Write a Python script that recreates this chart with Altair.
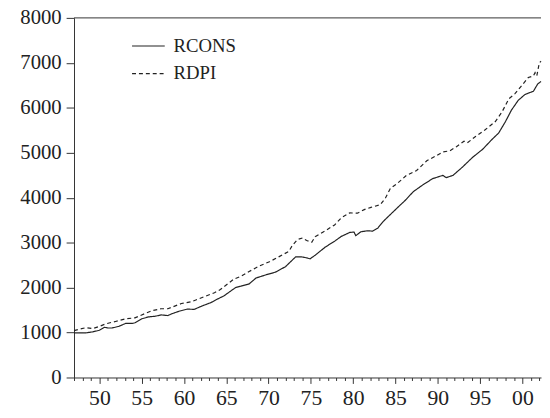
import altair as alt
import pandas as pd

series_names = ["RCONS", "RDPI"]

rcons_year = [1947.0, 1948.4, 1949.2, 1950.0, 1950.6, 1951.0, 1951.5, 1952.3, 1953.1, 1953.9,
              1954.2, 1955.0, 1955.8, 1956.6, 1957.3, 1958.1, 1958.5, 1959.5, 1960.4, 1961.2,
              1962.0, 1963.2, 1963.9, 1964.7, 1965.5, 1966.1, 1966.7, 1967.7, 1968.5, 1969.7,
              1970.8, 1972.0, 1972.6, 1973.2, 1973.9, 1974.5, 1974.9, 1975.5, 1976.7, 1977.8,
              1978.6, 1979.6, 1980.1, 1980.3, 1980.9, 1981.7, 1982.3, 1982.9, 1983.6, 1984.4,
              1985.4, 1986.1, 1987.1, 1988.3, 1989.4, 1990.6, 1991.0, 1991.8, 1992.9, 1994.1,
              1995.3, 1996.4, 1997.2, 1998.0, 1998.7, 1999.5, 2000.3, 2001.3, 2001.8, 2002.2]
rcons_value = [993, 993, 1015, 1051, 1116, 1102, 1102, 1138, 1203, 1203,
               1218, 1305, 1348, 1363, 1392, 1378, 1414, 1479, 1522, 1515,
               1581, 1668, 1740, 1813, 1921, 2001, 2030, 2082, 2212, 2285,
               2343, 2466, 2575, 2684, 2684, 2662, 2640, 2720, 2901, 3032,
               3140, 3228, 3235, 3155, 3242, 3264, 3257, 3322, 3481, 3627,
               3808, 3931, 4134, 4294, 4424, 4497, 4446, 4497, 4678, 4896,
               5077, 5295, 5440, 5694, 5947, 6165, 6296, 6368, 6528, 6586]

rdpi_year = [1947.0, 1948.4, 1949.2, 1950.0, 1950.8, 1951.9, 1953.1, 1954.2, 1955.0, 1956.2,
             1957.3, 1958.1, 1958.5, 1959.7, 1960.8, 1961.4, 1962.4, 1963.6, 1964.3, 1965.3,
             1965.9, 1966.7, 1967.7, 1968.9, 1970.1, 1971.2, 1972.4, 1972.8, 1973.4, 1974.0,
             1974.5, 1975.1, 1975.5, 1976.7, 1977.8, 1978.6, 1979.6, 1980.5, 1981.3, 1982.1,
             1983.2, 1983.8, 1984.4, 1985.2, 1986.3, 1987.5, 1988.7, 1989.8, 1990.6, 1991.4,
             1992.2, 1993.1, 1993.5, 1994.5, 1995.6, 1996.8, 1997.6, 1998.4, 1999.1, 1999.9,
             2000.7, 2001.3, 2001.5, 2001.7, 2002.0, 2002.2]
rdpi_value = [1044, 1109, 1088, 1138, 1196, 1247, 1305, 1327, 1392, 1486,
              1530, 1530, 1559, 1646, 1682, 1725, 1798, 1885, 1958, 2103,
              2190, 2248, 2357, 2481, 2575, 2684, 2807, 2937, 3068, 3104,
              3046, 3010, 3133, 3264, 3394, 3554, 3663, 3655, 3735, 3786,
              3844, 3989, 4207, 4315, 4497, 4606, 4823, 4932, 5019, 5041,
              5135, 5258, 5222, 5367, 5512, 5694, 5911, 6201, 6310, 6491,
              6673, 6709, 6782, 6709, 7000, 7035]

x_ticks = list(range(1947, 2003))
y_ticks = [0, 1000, 2000, 3000, 4000, 5000, 6000, 7000, 8000]

df = pd.concat([
    pd.DataFrame({"year": rcons_year, "value": rcons_value, "series": series_names[0]}),
    pd.DataFrame({"year": rdpi_year, "value": rdpi_value, "series": series_names[1]}),
])

FONT = "Liberation Serif"
INK = "#222222"

x_scale = alt.Scale(domain=[1947, 2002.2], nice=False, zero=False)
y_scale = alt.Scale(domain=[0, 8000], nice=False)

lines = alt.Chart(df).mark_line(color=INK, strokeWidth=1.2).encode(
    x=alt.X("year:Q", scale=x_scale, title=None,
            axis=alt.Axis(values=x_ticks, grid=False,
                          labelExpr="datum.value % 5 === 0 ? slice('' + datum.value, 2) : ''",
                          tickSize={"condition": {"test": "datum.value % 5 === 0", "value": 6}, "value": 3},
                          labelFlush=False, labelPadding=4, labelOverlap=False, labelFontSize=22)),
    y=alt.Y("value:Q", scale=y_scale, title=None,
            axis=alt.Axis(values=y_ticks, grid=False, tickSize=8, labelPadding=5, format="d",
                          labelFontSize=21)),
    strokeDash=alt.StrokeDash("series:N",
                              scale=alt.Scale(domain=series_names, range=[[1, 0], [4, 3]]),
                              legend=alt.Legend(title=None, orient="none", legendX=58, legendY=11,
                                                symbolType="stroke", symbolSize=1100,
                                                symbolStrokeColor=INK, symbolStrokeWidth=1.2,
                                                labelFont=FONT, labelFontSize=19, labelColor=INK,
                                                labelOffset=8, rowPadding=0, padding=0)),
)

top = alt.Chart(pd.DataFrame({"v": [y_ticks[-1]]})).mark_rule(color="#333333", strokeWidth=1).encode(
    y=alt.Y("v:Q", scale=y_scale)
)

chart = alt.layer(lines, top).properties(
    width=474, height=365,
    autosize=alt.AutoSizeParams(type="none"),
    padding={"left": 67, "top": 7, "right": 1, "bottom": 34},
).configure_view(stroke=None).configure_axis(
    labelFont=FONT, labelColor=INK,
    domainColor="#333333", tickColor="#333333", domainWidth=1, tickWidth=1,
)

chart.save("out.html", embed_options={"renderer": "svg", "actions": False})
